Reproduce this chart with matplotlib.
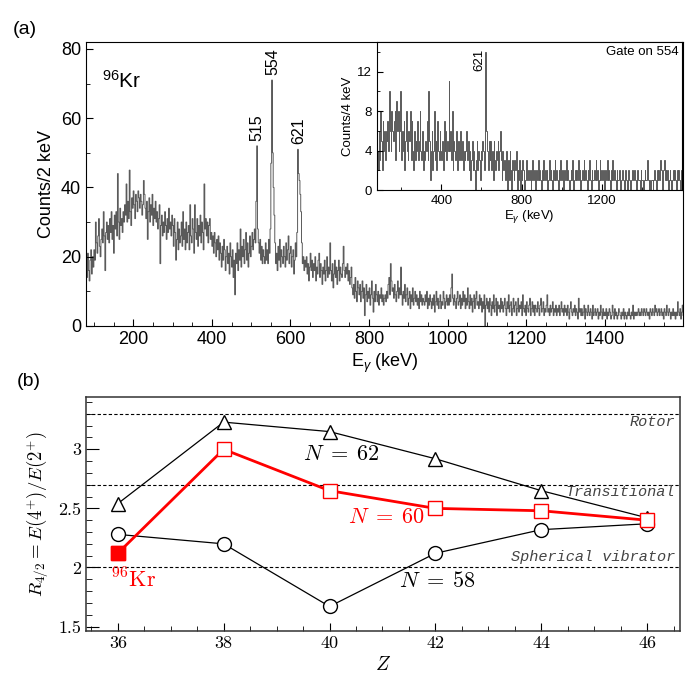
import numpy as np
import matplotlib
matplotlib.use('Agg')
import matplotlib.pyplot as plt
from matplotlib.ticker import MultipleLocator

plt.rcParams['font.family'] = 'Liberation Sans'
plt.rcParams['mathtext.fontset'] = 'custom'
plt.rcParams['mathtext.rm'] = 'Liberation Sans'
plt.rcParams['mathtext.it'] = 'Liberation Sans:italic'

# ---------- dados (a): espectro total, 2 keV/canal a partir de 80 keV ----------
e_inicio = 80
canal_total = 2
contagens_total = [
    18, 14, 21, 16, 13, 19, 22, 15, 20, 17,
    22, 19, 30, 24, 21, 26, 31, 23, 20, 25,
    28, 24, 33, 26, 16, 27, 30, 25, 29, 24,
    31, 27, 33, 25, 29, 21, 32, 28, 33, 26,
    44, 30, 25, 34, 29, 31, 27, 33, 30, 35,
    32, 41, 30, 36, 31, 45, 33, 29, 37, 34,
    39, 35, 31, 38, 36, 33, 39, 37, 34, 38,
    36, 32, 35, 42, 38, 34, 31, 36, 25, 33,
    37, 30, 35, 32, 38, 29, 34, 31, 36, 30,
    33, 28, 31, 35, 18, 29, 32, 26, 30, 27,
    33, 29, 25, 31, 27, 34, 28, 30, 26, 32,
    29, 23, 31, 27, 19, 25, 30, 22, 28, 24,
    26, 30, 23, 33, 25, 28, 22, 30, 24, 27,
    29, 22, 35, 26, 24, 31, 28, 21, 35, 27,
    25, 31, 23, 29, 26, 32, 24, 30, 27, 22,
    41, 28, 31, 26, 30, 24, 29, 31, 25, 27,
    23, 26, 21, 27, 24, 20, 25, 22, 26, 19,
    24, 21, 17, 23, 19, 25, 22, 16, 20, 23,
    18, 21, 15, 24, 20, 17, 22, 14, 19, 9,
    21, 18, 24, 16, 22, 19, 28, 17, 23, 20,
    25, 18, 22, 27, 19, 24, 17, 21, 26, 20,
    23, 27, 22, 25, 28, 24, 36, 52, 28, 24,
    21, 25, 19, 23, 18, 22, 20, 18, 24, 19,
    22, 18, 25, 21, 28, 47, 71, 50, 40, 32,
    24, 18, 21, 16, 23, 19, 25, 17, 22, 20,
    18, 23, 20, 17, 24, 19, 22, 26, 18, 21,
    23, 17, 20, 22, 15, 19, 24, 20, 27, 51,
    44, 42, 38, 33, 24, 18, 20, 16, 19, 17,
    20, 15, 18, 13, 17, 21, 16, 19, 14, 18,
    16, 20, 13, 17, 15, 19, 21, 14, 18, 16,
    12, 17, 15, 19, 13, 16, 20, 14, 17, 15,
    24, 16, 13, 18, 11, 15, 19, 14, 17, 12,
    16, 19, 13, 17, 15, 14, 18, 23, 16, 14,
    17, 15, 18, 13, 16, 12, 14, 17, 11, 9,
    12, 8, 14, 10, 7, 13, 11, 9, 12, 7,
    10, 13, 8, 11, 3, 9, 12, 7, 10, 8,
    11, 6, 9, 13, 8, 4, 10, 7, 12, 9,
    7, 10, 6, 9, 8, 11, 7, 9, 6, 8,
    9, 7, 10, 8, 12, 14, 9, 18, 13, 10,
    11, 8, 12, 9, 7, 10, 13, 8, 11, 9,
    17, 9, 6, 10, 8, 12, 7, 9, 11, 6,
    8, 10, 5, 9, 7, 11, 6, 8, 10, 7,
    9, 6, 8, 5, 10, 7, 9, 6, 8, 7,
    6, 9, 7, 10, 5, 8, 6, 9, 7, 5,
    8, 6, 9, 4, 7, 10, 6, 8, 5, 7,
    9, 5, 7, 6, 10, 8, 5, 7, 9, 6,
    8, 6, 9, 7, 11, 15, 8, 6, 9, 7,
    5, 8, 10, 6, 7, 9, 5, 8, 6, 10,
    7, 9, 5, 8, 6, 11, 7, 5, 9, 6,
    8, 4, 7, 9, 5, 8, 10, 6, 7, 5,
    9, 6, 8, 4, 7, 5, 9, 0, 6, 8,
    5, 7, 4, 8, 6, 3, 7, 5, 9, 4,
    6, 8, 3, 7, 5, 6, 4, 8, 5, 7,
    4, 6, 8, 5, 3, 7, 5, 9, 4, 6,
    7, 3, 5, 8, 4, 6, 7, 3, 5, 8,
    4, 6, 5, 7, 3, 9, 5, 4, 6, 3,
    7, 5, 4, 6, 8, 3, 5, 7, 4, 6,
    3, 6, 5, 4, 7, 5, 3, 6, 8, 4,
    5, 7, 3, 5, 4, 6, 9, 4, 5, 3,
    6, 4, 5, 7, 3, 5, 4, 6, 3, 5,
    4, 6, 3, 5, 7, 4, 5, 3, 6, 4,
    5, 3, 6, 4, 2, 5, 7, 4, 3, 5,
    4, 6, 3, 5, 4, 2, 8, 4, 5, 3,
    5, 3, 4, 6, 2, 5, 4, 3, 6, 4,
    3, 5, 4, 2, 6, 3, 4, 5, 3, 4,
    5, 2, 4, 3, 6, 4, 2, 5, 3, 4,
    3, 5, 2, 4, 3, 5, 4, 2, 3, 6,
    4, 2, 5, 3, 4, 2, 3, 5, 4, 3,
    2, 4, 3, 5, 2, 4, 3, 2, 4, 3,
    5, 3, 2, 4, 3, 6, 2, 4, 3, 4,
    3, 4, 5, 3, 4, 3, 5, 4, 3, 5,
    4, 3, 5, 4, 3, 4, 2, 5, 4, 3,
    5, 4, 3, 6, 4, 5, 3, 4, 5, 3,
    4, 5, 3, 4, 2, 5, 4, 3, 6, 4,
    3, 5, 4, 2, 4, 3, 5, 3, 4, 2,
    4, 3, 7, 4, 3, 5, 2, 4, 6, 3,
]

# espectro com gate em 554, 4 keV/canal
canal_gate = 4
contagens_gate = [
    4, 2, 6, 3, 8, 5, 2, 7, 4, 6,
    3, 6, 5, 7, 4, 10, 6, 4, 8, 6,
    5, 7, 8, 3, 9, 6, 8, 4, 6, 10,
    3, 6, 4, 7, 2, 5, 8, 4, 3, 6,
    5, 8, 3, 7, 4, 2, 6, 3, 5, 4,
    7, 3, 5, 8, 4, 3, 6, 2, 4, 3,
    5, 4, 7, 3, 10, 5, 1, 4, 6, 2,
    4, 8, 3, 5, 2, 7, 4, 3, 6, 4,
    3, 5, 2, 7, 4, 6, 3, 5, 4, 11,
    4, 6, 3, 8, 2, 5, 4, 3, 6, 4,
    2, 5, 3, 6, 4, 3, 5, 2, 4, 3,
    4, 6, 3, 5, 2, 4, 1, 3, 5, 2,
    4, 2, 0, 3, 5, 2, 4, 3, 1, 4,
    3, 5, 4, 2, 4, 14, 6, 4, 2, 5,
    3, 5, 2, 4, 1, 5, 3, 2, 4, 3,
    5, 2, 4, 6, 3, 1, 4, 2, 3, 1,
    2, 4, 0, 3, 1, 4, 2, 0, 3, 2,
    1, 3, 2, 4, 0, 2, 1, 3, 0, 2,
    1, 3, 2, 0, 1, 2, 3, 1, 2, 1,
    2, 0, 1, 3, 1, 2, 1, 0, 2, 1,
    3, 1, 2, 1, 0, 2, 1, 3, 1, 2,
    1, 2, 0, 1, 3, 1, 2, 1, 0, 2,
    1, 3, 1, 2, 1, 0, 2, 1, 3, 1,
    2, 1, 0, 2, 1, 3, 1, 2, 1, 0,
    1, 2, 1, 3, 0, 1, 2, 1, 2, 1,
    3, 1, 2, 0, 1, 2, 1, 3, 1, 2,
    1, 0, 2, 1, 3, 1, 0, 2, 1, 1,
    2, 1, 3, 1, 2, 0, 1, 3, 1, 2,
    1, 2, 1, 0, 2, 1, 3, 1, 2, 1,
    0, 2, 1, 3, 1, 2, 1, 0, 2, 1,
    1, 2, 0, 1, 1, 2, 1, 0, 1, 2,
    1, 0, 2, 1, 1, 0, 1, 2, 1, 1,
    2, 1, 0, 1, 2, 1, 1, 0, 2, 1,
    1, 0, 1, 2, 1, 1, 3, 1, 0, 1,
    0, 1, 1, 0, 1, 2, 1, 0, 2, 1,
    2, 1, 3, 2, 1, 0, 2, 3, 1, 2,
    1, 2, 0, 1, 2, 1, 0, 1, 2, 1,
    2, 1, 0, 2, 1, 2, 1, 0, 2, 1,
]

picos_total = [515, 554, 621]
picos_gate = [621]

# ---------- dados (b): R4/2 em funcao de Z ----------
Z = [36, 38, 40, 42, 44, 46]
r_n62 = [2.54, 3.23, 3.15, 2.92, 2.65, 2.42]
r_n60 = [2.12, 3.00, 2.65, 2.50, 2.48, 2.40]
r_n58 = [2.28, 2.20, 1.67, 2.12, 2.32, 2.37]
limites = [3.3, 2.7, 2.0]
nomes_limites = ['Rotor', 'Transitional', 'Spherical vibrator']
pos_nomes = [3.235, 2.64, 2.085]


def pico_max(contagens, e0, largura, e):
    # maior contagem perto da energia e
    c = np.array(contagens)
    centros = e0 + largura * (np.arange(len(c)) + 0.5)
    sel = np.abs(centros - e) <= 6
    return c[sel].max()


fig = plt.figure(figsize=(6.98, 6.88), dpi=100)

# ---------- painel (a) ----------
ax = fig.add_axes([0.1232, 0.5262, 0.8553, 0.4128])
bordas = e_inicio + canal_total * np.arange(len(contagens_total) + 1)
ax.stairs(contagens_total, bordas, color='#5a5a5a', lw=0.7)
ax.set_xlim(80, 1598)
ax.set_ylim(0, 82)
ax.xaxis.set_major_locator(MultipleLocator(200))
ax.xaxis.set_minor_locator(MultipleLocator(50))
ax.yaxis.set_major_locator(MultipleLocator(20))
ax.yaxis.set_minor_locator(MultipleLocator(10))
ax.tick_params(which='both', direction='in', labelsize=13)
ax.tick_params(which='major', length=5)
ax.tick_params(which='minor', length=3)
ax.set_xlabel(r'E$_\gamma$ (keV)', fontsize=13, labelpad=3)
ax.set_ylabel('Counts/2 keV', fontsize=13)
ax.text(0.027, 0.84, r'$^{96}$Kr', transform=ax.transAxes, fontsize=15,
        va='baseline')
for p in picos_total:
    h = pico_max(contagens_total, e_inicio, canal_total, p)
    ax.text(p, h + 1.5, str(p), rotation=90, ha='center', va='bottom',
            fontsize=11.5)

# inset com gate
axi = fig.add_axes([0.5401, 0.7238, 0.4370, 0.2152])
bordas_g = e_inicio + canal_gate * np.arange(len(contagens_gate) + 1)
axi.stairs(contagens_gate, bordas_g, color='#5a5a5a', lw=0.7)
axi.set_xlim(80, 1598)
axi.set_ylim(0, 15)
axi.xaxis.set_major_locator(MultipleLocator(400))
axi.xaxis.set_minor_locator(MultipleLocator(200))
axi.yaxis.set_major_locator(MultipleLocator(4))
axi.yaxis.set_minor_locator(MultipleLocator(2))
axi.tick_params(which='both', direction='in', labelsize=9.5)
axi.tick_params(which='major', length=4)
axi.tick_params(which='minor', length=2.5)
axi.set_xlabel(r'E$_\gamma$ (keV)', fontsize=9.5, labelpad=1)
axi.set_ylabel('Counts/4 keV', fontsize=9.5, labelpad=2)
axi.text(0.988, 0.975, 'Gate on 554', transform=axi.transAxes, ha='right',
         va='top', fontsize=9.5)
for p in picos_gate:
    h = pico_max(contagens_gate, e_inicio, canal_gate, p)
    axi.text(p - 4, h - 0.8, str(p), rotation=90, ha='right', va='center',
             fontsize=9.5)

fig.text(0.018, 0.97, '(a)', fontsize=14, va='top')
fig.text(0.024, 0.458, '(b)', fontsize=14, va='top')

# ---------- painel (b) ----------
bx = fig.add_axes([0.1232, 0.0833, 0.8510, 0.3392])
for y in limites:
    bx.axhline(y, color='black', lw=0.8, ls=(0, (3, 2)))
for nome, y in zip(nomes_limites, pos_nomes):
    bx.text(46.53, y, nome, ha='right', va='center', fontsize=11,
            family='Liberation Mono', style='italic', color='#444444')

bx.plot(Z, r_n62, color='black', lw=0.9, marker='^', ms=10,
        mfc='white', mec='black', mew=1.0, zorder=3)
bx.plot(Z, r_n58, color='black', lw=0.9, marker='o', ms=10,
        mfc='white', mec='black', mew=1.0, zorder=3)
bx.plot(Z, r_n60, color='red', lw=2.0, marker='s', ms=10,
        mfc='white', mec='red', mew=1.0, zorder=4)
bx.plot(Z[:1], r_n60[:1], ls='none', marker='s', ms=10, mfc='red',
        mec='red', zorder=5)

bx.text(39.5, 2.96, r'$N\;=\;62$', fontsize=16, va='center', ha='left',
        math_fontfamily='cm')
bx.text(40.34, 2.42, r'$N\;=\;60$', fontsize=16, va='center', ha='left',
        color='red', math_fontfamily='cm')
bx.text(41.32, 1.88, r'$N\;=\;58$', fontsize=16, va='center', ha='left',
        math_fontfamily='cm')
bx.text(35.87, 1.89, r'$^{96}\mathrm{Kr}$', fontsize=16, va='center',
        ha='left', color='red', math_fontfamily='cm')

bx.set_xlim(35.4, 46.62)
bx.set_ylim(1.465, 3.44)
bx.xaxis.set_major_locator(MultipleLocator(2))
bx.xaxis.set_minor_locator(MultipleLocator(0.5))
bx.yaxis.set_major_locator(MultipleLocator(0.5))
bx.yaxis.set_minor_locator(MultipleLocator(0.1))
bx.tick_params(which='both', direction='in', labelsize=13)
bx.tick_params(axis='x', which='major', length=6)
bx.tick_params(axis='x', which='minor', length=3.5)
bx.tick_params(axis='y', which='major', length=9)
bx.tick_params(axis='y', which='minor', length=4.5)
for t in bx.get_xticklabels() + bx.get_yticklabels():
    t.set_family('cmr10')
bx.yaxis.set_major_formatter(plt.FuncFormatter(lambda v, p: f'{v:g}'))
bx.set_xlabel(r'$Z$', fontsize=14, math_fontfamily='cm', labelpad=4)
bx.set_ylabel(r'$R_{4/2} = E(4^{+})/E(2^{+})$', fontsize=13.5,
              math_fontfamily='cm', labelpad=6)
for s in bx.spines.values():
    s.set_color('#333333')
    s.set_linewidth(1.1)

fig.savefig('out.png', dpi=100)
